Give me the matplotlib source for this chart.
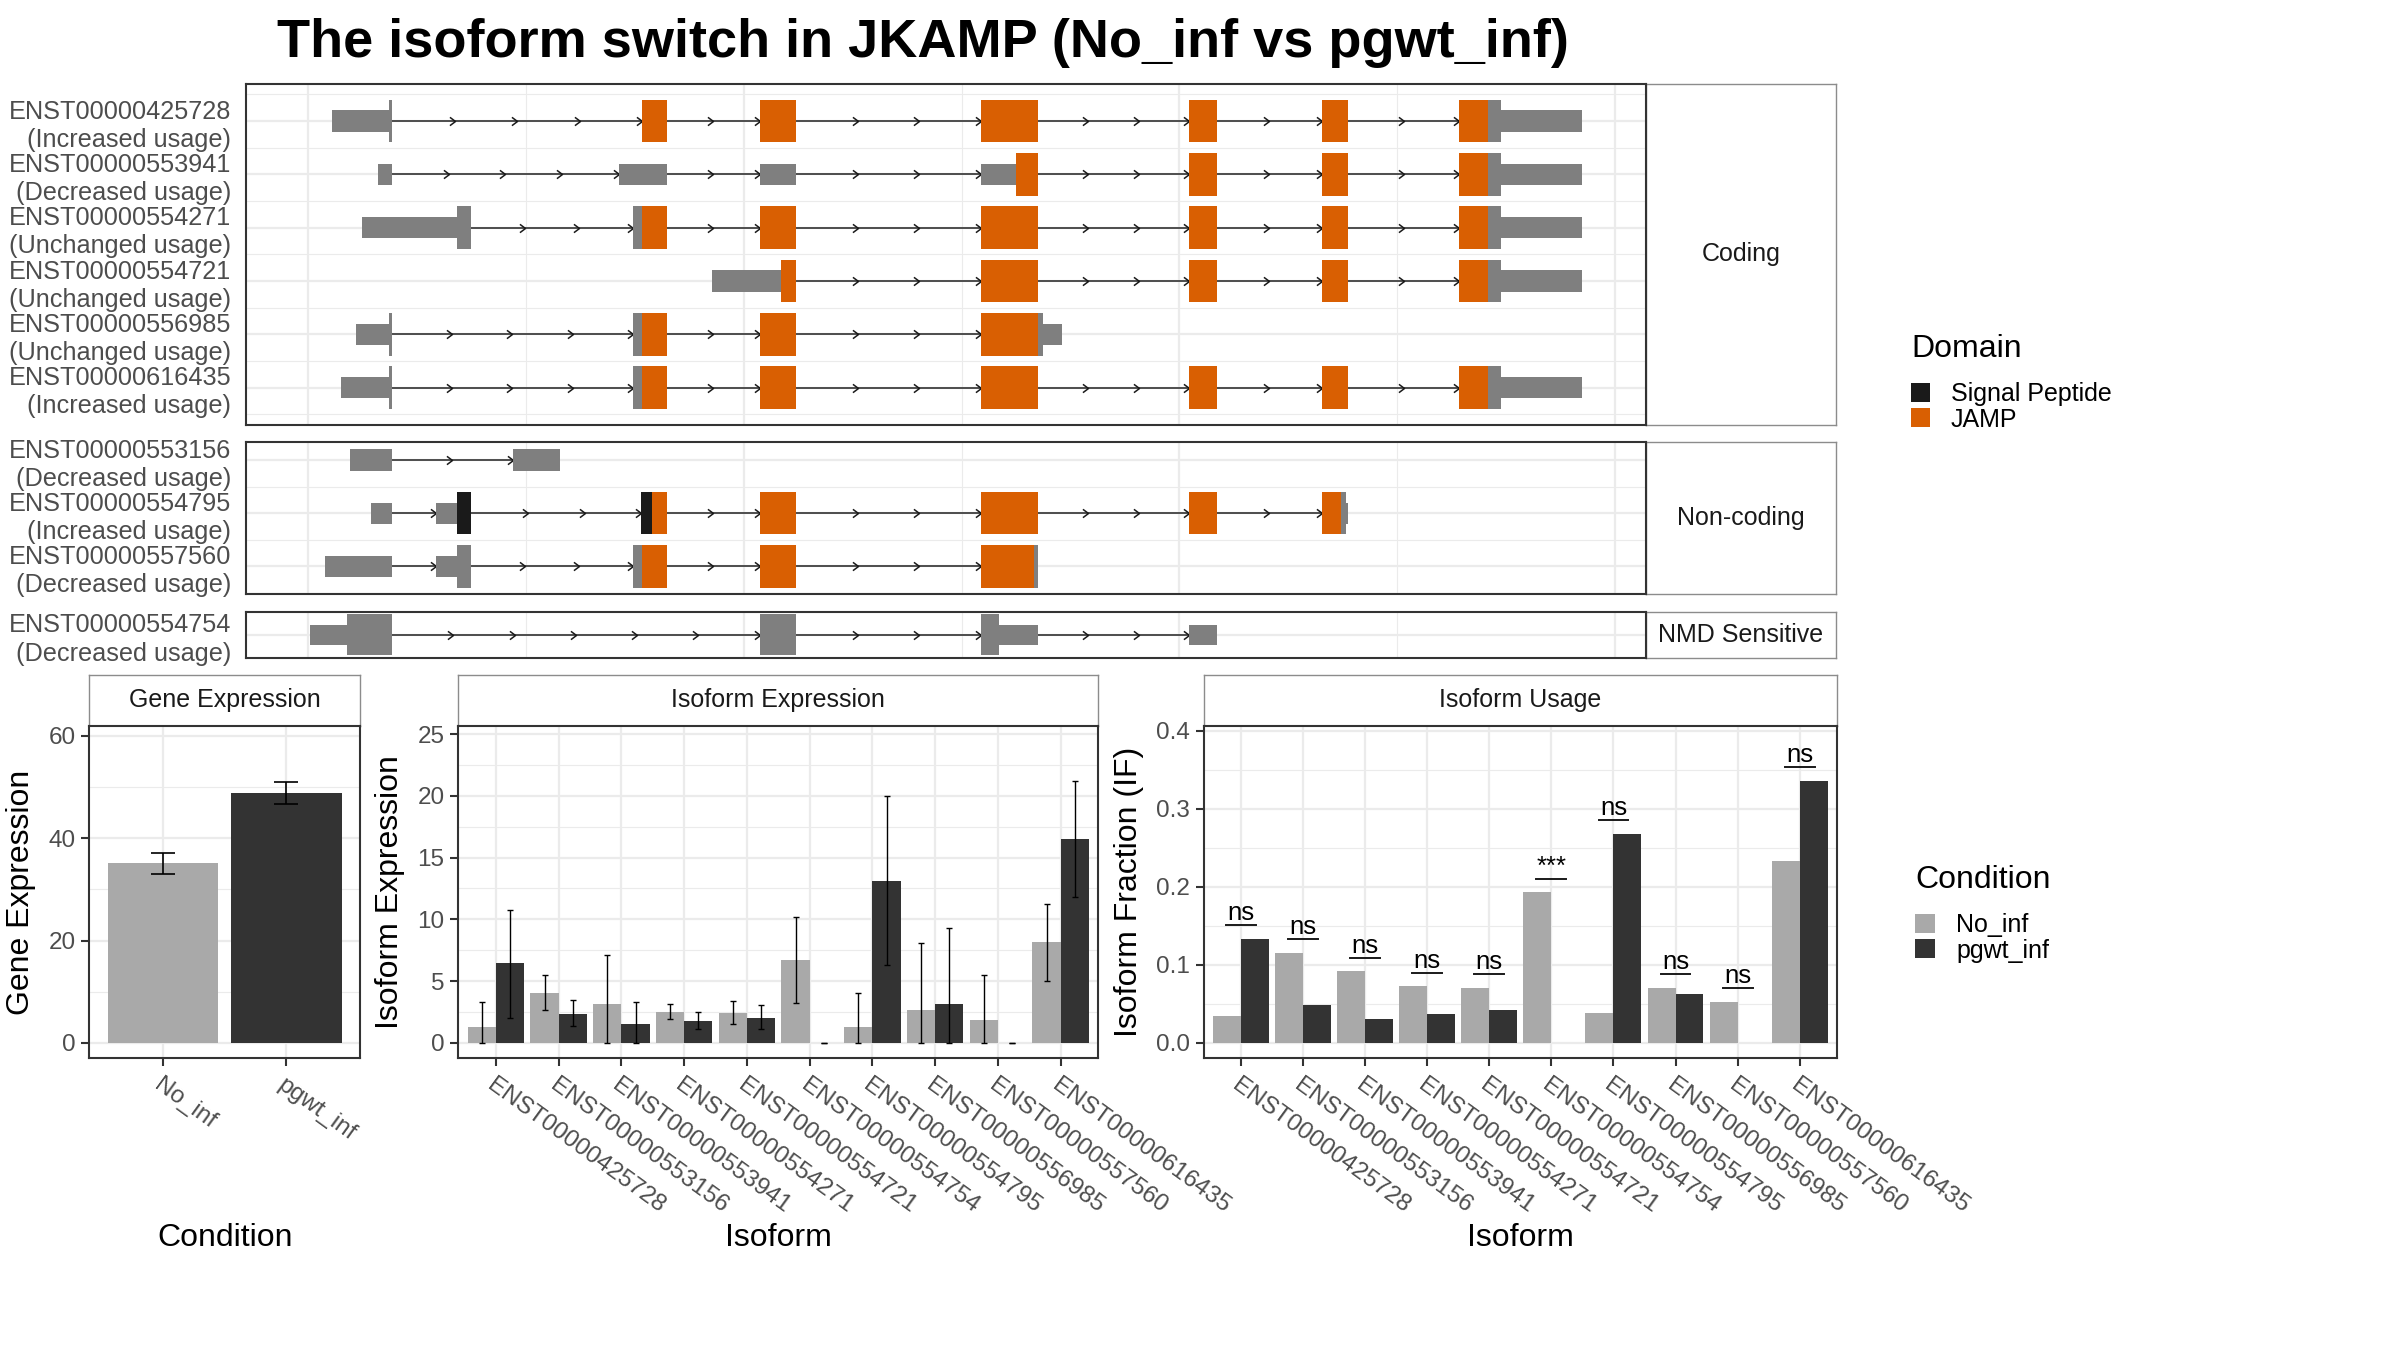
import numpy as np
import matplotlib
matplotlib.use("Agg")
import matplotlib.pyplot as plt
from matplotlib.patches import Rectangle, Patch
from matplotlib.path import Path

plt.rcParams['font.family'] = ['Liberation Sans', 'DejaVu Sans']

# ---------------- data ----------------
title_text = "The isoform switch in JKAMP (No_inf vs pgwt_inf)"

coding_ids = ["ENST00000425728", "ENST00000553941", "ENST00000554271",
              "ENST00000554721", "ENST00000556985", "ENST00000616435"]
coding_usage = ["Increased usage", "Decreased usage", "Unchanged usage",
                "Unchanged usage", "Unchanged usage", "Increased usage"]
noncoding_ids = ["ENST00000553156", "ENST00000554795", "ENST00000557560"]
noncoding_usage = ["Decreased usage", "Increased usage", "Decreased usage"]
nmd_ids = ["ENST00000554754"]
nmd_usage = ["Decreased usage"]
facet_names = ["Coding", "Non-coding", "NMD Sensitive"]

# exon segments (start, end, feature) in rescaled genomic coordinates
seg_425728 = [(11.0, 37.2, "UTR"), (37.2, 38.6, "CDS"), (153.5, 164.8, "JAMP"), (207.4, 224.0, "JAMP"),
              (309.0, 335.0, "JAMP"), (404.3, 417.2, "JAMP"), (465.4, 477.4, "JAMP"),
              (528.4, 541.5, "JAMP"), (541.5, 547.6, "CDS"), (547.6, 584.9, "UTR")]
seg_553941 = [(32.1, 38.6, "UTR"), (142.8, 164.8, "UTR"), (207.4, 224.0, "UTR"), (309.0, 324.9, "UTR"),
              (324.9, 335.0, "JAMP"), (404.3, 417.2, "JAMP"), (465.4, 477.4, "JAMP"),
              (528.4, 541.5, "JAMP"), (541.5, 547.6, "CDS"), (547.6, 584.9, "UTR")]
seg_554271 = [(25.0, 68.4, "UTR"), (68.4, 74.7, "CDS"), (149.2, 153.5, "CDS"), (153.5, 164.8, "JAMP"),
              (207.4, 224.0, "JAMP"), (309.0, 335.0, "JAMP"), (404.3, 417.2, "JAMP"),
              (465.4, 477.4, "JAMP"), (528.4, 541.5, "JAMP"), (541.5, 547.6, "CDS"), (547.6, 584.9, "UTR")]
seg_554721 = [(185.4, 217.0, "UTR"), (217.0, 224.0, "JAMP"), (309.0, 335.0, "JAMP"), (404.3, 417.2, "JAMP"),
              (465.4, 477.4, "JAMP"), (528.4, 541.5, "JAMP"), (541.5, 547.6, "CDS"), (547.6, 584.9, "UTR")]
seg_556985 = [(22.0, 37.2, "UTR"), (37.2, 38.6, "CDS"), (149.2, 153.5, "CDS"), (153.5, 164.8, "JAMP"),
              (207.4, 224.0, "JAMP"), (309.0, 335.0, "JAMP"), (335.0, 337.4, "CDS"), (337.4, 346.3, "UTR")]
seg_616435 = [(15.0, 37.2, "UTR"), (37.2, 38.6, "CDS"), (149.2, 153.5, "CDS"), (153.5, 164.8, "JAMP"),
              (207.4, 224.0, "JAMP"), (309.0, 335.0, "JAMP"), (404.3, 417.2, "JAMP"),
              (465.4, 477.4, "JAMP"), (528.4, 541.5, "JAMP"), (541.5, 547.6, "CDS"), (547.6, 584.9, "UTR")]
seg_553156 = [(19.2, 38.6, "UTR"), (94.1, 115.7, "UTR")]
seg_554795 = [(29.0, 38.6, "UTR"), (59.0, 68.4, "UTR"), (68.4, 74.7, "Signal Peptide"),
              (153.1, 158.0, "Signal Peptide"), (158.0, 164.8, "JAMP"), (207.4, 224.0, "JAMP"),
              (309.0, 335.0, "JAMP"), (404.3, 417.2, "JAMP"), (465.4, 474.0, "JAMP"),
              (474.0, 476.6, "CDS"), (476.6, 477.4, "UTR")]
seg_557560 = [(8.0, 38.6, "UTR"), (59.0, 68.4, "UTR"), (68.4, 74.7, "CDS"), (149.2, 153.5, "CDS"),
              (153.5, 164.8, "JAMP"), (207.4, 224.0, "JAMP"), (309.0, 333.2, "JAMP"), (333.2, 335.0, "CDS")]
seg_554754 = [(1.0, 18.0, "UTR"), (18.0, 38.6, "CDS"), (207.4, 224.0, "CDS"), (309.0, 317.2, "CDS"),
              (317.2, 335.0, "UTR"), (404.3, 417.2, "UTR")]

segments = {
    "ENST00000425728": seg_425728, "ENST00000553941": seg_553941, "ENST00000554271": seg_554271,
    "ENST00000554721": seg_554721, "ENST00000556985": seg_556985, "ENST00000616435": seg_616435,
    "ENST00000553156": seg_553156, "ENST00000554795": seg_554795, "ENST00000557560": seg_557560,
    "ENST00000554754": seg_554754,
}

domain_names = ["Signal Peptide", "JAMP"]
domain_colors = ["#1A1A1A", "#D95F02"]
exon_gray = "#7F7F7F"

conditions = ["No_inf", "pgwt_inf"]
cond_colors = ["#A9A9A9", "#333333"]

gene_mean = [35.2, 48.9]
gene_low = [33.1, 46.7]
gene_high = [37.1, 51.1]

iso_ids = ["ENST00000425728", "ENST00000553156", "ENST00000553941", "ENST00000554271",
           "ENST00000554721", "ENST00000554754", "ENST00000554795", "ENST00000556985",
           "ENST00000557560", "ENST00000616435"]
iso_no = [1.32, 4.08, 3.19, 2.54, 2.46, 6.68, 1.32, 2.70, 1.89, 8.14]
iso_no_low = [0.0, 2.68, 0.0, 1.92, 1.51, 3.22, 0.0, 0.0, 0.0, 5.03]
iso_no_high = [3.30, 5.46, 7.14, 3.14, 3.41, 10.19, 4.08, 8.05, 5.51, 11.22]
iso_pg = [6.43, 2.38, 1.57, 1.81, 2.05, 0.0, 13.08, 3.11, 0.0, 16.49]
iso_pg_low = [2.03, 1.35, 0.0, 1.11, 1.11, 0.0, 6.27, 0.0, 0.0, 11.84]
iso_pg_high = [10.78, 3.49, 3.35, 2.51, 3.08, 0.0, 19.95, 9.32, 0.0, 21.22]

if_no = [0.035, 0.1155, 0.0916, 0.0723, 0.071, 0.193, 0.0385, 0.071, 0.053, 0.2327]
if_pg = [0.1335, 0.0492, 0.0308, 0.0376, 0.0428, 0.0, 0.2682, 0.0633, 0.0, 0.3354]
if_sig = ["ns", "ns", "ns", "ns", "ns", "***", "ns", "ns", "ns", "ns"]

# ---------------- figure ----------------
W, H = 2400, 1350
fig = plt.figure(figsize=(24, 13.5), dpi=100)
fig.patch.set_facecolor("white")

TICK_C = "#4D4D4D"
GRID_C = "#EBEBEB"
BORDER_C = "#333333"


def ax_px(l, t, r, b):
    return fig.add_axes([l / W, 1 - b / H, (r - l) / W, (b - t) / H])


def strip(l, t, r, b, text):
    sa = ax_px(l, t, r, b)
    sa.set_xticks([])
    sa.set_yticks([])
    sa.set_facecolor("white")
    for sp in sa.spines.values():
        sp.set_color("#8C8C8C")
        sp.set_linewidth(1.0)
    sa.text(0.5, 0.5, text, ha="center", va="center", fontsize=18, color="#1A1A1A",
            transform=sa.transAxes)
    return sa


def style_border(ax):
    for sp in ax.spines.values():
        sp.set_color(BORDER_C)
        sp.set_linewidth(1.5)


feat_color = {"UTR": exon_gray, "CDS": exon_gray}
for n_, c_ in zip(domain_names, domain_colors):
    feat_color[n_] = c_

chevron = Path([(-0.8, 0.6), (0, 0), (-0.8, -0.6)], [Path.MOVETO, Path.LINETO, Path.LINETO])

all_x = [v for segs in segments.values() for s in segs for v in s[:2]]
xmin, xmax = min(all_x), max(all_x)
xr = xmax - xmin
tx_xlim = (xmin - 0.05 * xr, xmax + 0.05 * xr)

PANEL_L, PANEL_R, STRIP_R = 246.4, 1646.0, 1836.0
panel_rows = [(coding_ids, coding_usage, 84.3, 424.5),
              (noncoding_ids, noncoding_usage, 442.5, 594.5),
              (nmd_ids, nmd_usage, 612.3, 657.5)]

for (ids, usage, top, bot), fname in zip(panel_rows, facet_names):
    strip(PANEL_R, top, STRIP_R, bot, fname)
    ax = ax_px(PANEL_L, top, PANEL_R, bot)
    n = len(ids)
    ypos = [n - i for i in range(n)]
    lo_ext, hi_ext = [], []
    for tid, y in zip(ids, ypos):
        segs = segments[tid]
        half = [0.2 if f == "UTR" else 0.4 for _, _, f in segs]
        lo_ext.append(y - max(half))
        hi_ext.append(y + max(half))
        for (s0, e0, _), (s1, e1, _) in zip(segs[:-1], segs[1:]):
            gap = s1 - e0
            if gap > 0.5:
                nseg = int(np.ceil(gap / 30.0))
                ax.plot([e0, s1], [y, y], color="#333333", lw=1.2, zorder=2, solid_capstyle="butt")
                tips = e0 + gap * np.arange(1, nseg + 1) / nseg
                ax.plot(tips, np.full(nseg, y), linestyle="none", marker=chevron, ms=8,
                        mfc="none", mec="#1A1A1A", mew=1.1, zorder=2)
        for (s, e, f), h in zip(segs, half):
            ax.add_patch(Rectangle((s, y - h), e - s, 2 * h, facecolor=feat_color[f],
                                   edgecolor="none", zorder=3))
    ylo, yhi = min(lo_ext), max(hi_ext)
    yr = yhi - ylo
    ylim = (ylo - 0.05 * yr, yhi + 0.05 * yr)
    ax.set_xticks([0, 200, 400, 600])
    ax.set_xticks([100, 300, 500], minor=True)
    ax.set_yticks(ypos)
    ax.set_yticks([k + 0.5 for k in range(0, n + 1) if ylim[0] < k + 0.5 < ylim[1]], minor=True)
    ax.set_yticklabels([f"{t}\n({u})" for t, u in zip(ids, usage)])
    ax.set_ylim(*ylim)
    ax.set_xlim(*tx_xlim)
    ax.tick_params(axis="both", which="both", length=0)
    ax.tick_params(axis="x", labelbottom=False)
    ax.tick_params(axis="y", pad=11, labelsize=18.2, labelcolor=TICK_C)
    for lbl in ax.get_yticklabels():
        lbl.set_linespacing(1.22)
        lbl.set_multialignment("right")
    ax.set_axisbelow(True)
    ax.grid(which="major", color=GRID_C, lw=1.6)
    ax.grid(which="minor", color=GRID_C, lw=0.8)
    style_border(ax)

# ---------------- bottom panels ----------------
P_TOP, P_BOT, S_TOP = 726.0, 1058.0, 675.0


def bottom_axes(l, r, strip_text):
    strip(l, S_TOP, r, P_TOP, strip_text)
    ax = ax_px(l, P_TOP, r, P_BOT)
    ax.set_axisbelow(True)
    style_border(ax)
    ax.tick_params(axis="both", which="major", length=5.5, width=1.5, color=BORDER_C,
                   labelsize=17.5, labelcolor=TICK_C)
    ax.tick_params(axis="y", pad=4.5)
    ax.tick_params(axis="both", which="minor", length=0)
    return ax


def rot_labels(ax, labels):
    ax.set_xticklabels(labels, rotation=-36, ha="left", va="top", rotation_mode="anchor")
    ax.tick_params(axis="x", pad=6)


# Gene expression
axg = bottom_axes(89.3, 360.0, "Gene Expression")
xg = np.arange(len(conditions))
axg.bar(xg, gene_mean, width=0.9, color=cond_colors, zorder=2)
axg.errorbar(xg, gene_mean, yerr=[np.subtract(gene_mean, gene_low), np.subtract(gene_high, gene_mean)],
             fmt="none", ecolor="black", elinewidth=1.2, capsize=8.5, capthick=1.2, zorder=3)
axg.set_yticks([0, 20, 40, 60])
axg.set_yticks([10, 30, 50], minor=True)
axg.set_xticks(xg)
rot_labels(axg, conditions)
axg.set_xlim(-0.6, len(conditions) - 0.4)
axg.set_ylim(-2.95, 61.95)
axg.grid(which="major", color=GRID_C, lw=1.6)
axg.grid(which="minor", axis="y", color=GRID_C, lw=0.8)

# Isoform expression
axe = bottom_axes(458.3, 1098.3, "Isoform Expression")
xi = np.arange(len(iso_ids))
bw = 0.45
axe.bar(xi - bw / 2, iso_no, width=bw, color=cond_colors[0], zorder=2)
axe.bar(xi + bw / 2, iso_pg, width=bw, color=cond_colors[1], zorder=2)
axe.errorbar(xi - bw / 2, iso_no, yerr=[np.subtract(iso_no, iso_no_low), np.subtract(iso_no_high, iso_no)],
             fmt="none", ecolor="black", elinewidth=1.0, capsize=2.2, capthick=1.0, zorder=3)
axe.errorbar(xi + bw / 2, iso_pg, yerr=[np.subtract(iso_pg, iso_pg_low), np.subtract(iso_pg_high, iso_pg)],
             fmt="none", ecolor="black", elinewidth=1.0, capsize=2.2, capthick=1.0, zorder=3)
axe.set_yticks([0, 5, 10, 15, 20, 25])
axe.set_yticks([2.5, 7.5, 12.5, 17.5, 22.5], minor=True)
axe.set_xticks(xi)
rot_labels(axe, iso_ids)
axe.set_xlim(-0.6, len(iso_ids) - 0.4)
axe.set_ylim(-1.22, 25.65)
axe.grid(which="major", color=GRID_C, lw=1.6)
axe.grid(which="minor", axis="y", color=GRID_C, lw=0.8)

# Isoform usage
axu = bottom_axes(1203.5, 1837.0, "Isoform Usage")
axu.bar(xi - bw / 2, if_no, width=bw, color=cond_colors[0], zorder=2)
axu.bar(xi + bw / 2, if_pg, width=bw, color=cond_colors[1], zorder=2)
for i, (a, b, lab) in enumerate(zip(if_no, if_pg, if_sig)):
    ysig = max(a, b) + 0.0175
    axu.plot([i - 0.24, i + 0.24], [ysig, ysig], color="#1A1A1A", lw=1.4, zorder=3)
    axu.annotate(lab, (i, ysig), xytext=(0, 0), textcoords="offset points",
                 ha="center", va="bottom", fontsize=18.5, color="black", zorder=4)
axu.set_yticks([0.0, 0.1, 0.2, 0.3, 0.4])
axu.set_yticklabels(["0.0", "0.1", "0.2", "0.3", "0.4"])
axu.set_yticks([0.05, 0.15, 0.25, 0.35], minor=True)
axu.set_xticks(xi)
rot_labels(axu, iso_ids)
axu.set_xlim(-0.6, len(iso_ids) - 0.4)
axu.set_ylim(-0.0193, 0.406)
axu.grid(which="major", color=GRID_C, lw=1.6)
axu.grid(which="minor", axis="y", color=GRID_C, lw=0.8)

# axis titles
fig.text(21 / W, 1 - 892 / H, "Gene Expression", rotation=90, ha="center", va="center", fontsize=23)
fig.text(390 / W, 1 - 892 / H, "Isoform Expression", rotation=90, ha="center", va="center", fontsize=23)
fig.text(1129 / W, 1 - 892 / H, "Isoform Fraction (IF)", rotation=90, ha="center", va="center", fontsize=23)
fig.text(224.7 / W, 1 - 1238 / H, "Condition", ha="center", va="center", fontsize=23)
fig.text(778.3 / W, 1 - 1238 / H, "Isoform", ha="center", va="center", fontsize=23)
fig.text(1520.3 / W, 1 - 1238 / H, "Isoform", ha="center", va="center", fontsize=23)

# title
fig.text(923 / W, 1 - 43 / H, title_text, ha="center", va="center", fontsize=39, fontweight="bold")

# legends
dom_handles = [Patch(facecolor=c, edgecolor="none", label=n_) for n_, c in zip(domain_names, domain_colors)]
leg1 = fig.legend(handles=dom_handles, title="Domain", loc="upper left",
                  bbox_to_anchor=(1911 / W, 1 - 334 / H),
                  frameon=False, fontsize=18, title_fontsize=23, handlelength=0.75, handleheight=0.8,
                  handletextpad=0.85, labelspacing=0.06, borderpad=0, borderaxespad=0, alignment="left")
cond_handles = [Patch(facecolor=c, edgecolor="none", label=n_) for n_, c in zip(conditions, cond_colors)]
leg2 = fig.legend(handles=cond_handles, title="Condition", loc="upper left",
                  bbox_to_anchor=(1915 / W, 1 - 865 / H),
                  frameon=False, fontsize=18, title_fontsize=23, handlelength=0.8, handleheight=0.8,
                  handletextpad=0.85, labelspacing=0.06, borderpad=0, borderaxespad=0, alignment="left")
for lg in (leg1, leg2):
    lg._legend_box.sep = 13

fig.savefig("out.png", dpi=100, facecolor="white")
